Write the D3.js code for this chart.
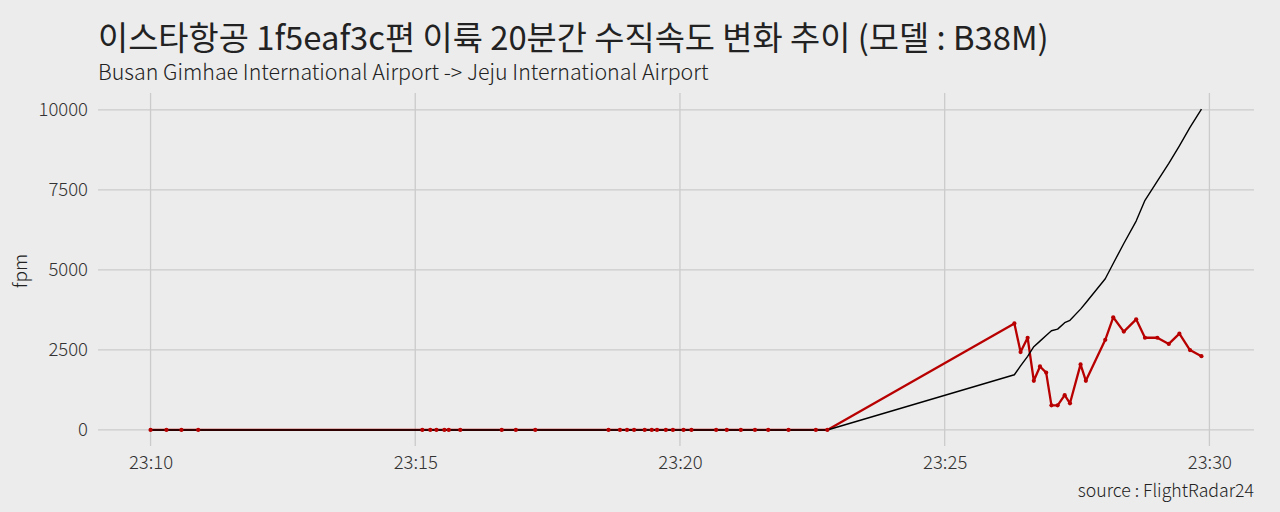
<!DOCTYPE html>
<html><head><meta charset="utf-8">
<script src="https://cdn.jsdelivr.net/npm/d3@7"></script>
<style>
html,body{margin:0;padding:0;background:#ececec;}
text{font-family:"Noto Sans CJK KR","Noto Sans",sans-serif;}
</style></head>
<body><svg id="c" width="1280" height="512"></svg>
<script>
const titleText = "이스타항공 1f5eaf3c편 이륙 20분간 수직속도 변화 추이 (모델 : B38M)";
const subtitleText = "Busan Gimhae International Airport -> Jeju International Airport";
const captionText = "source : FlightRadar24";
const yLabel = "fpm";
const times = ["23:10:00","23:10:18","23:10:35","23:10:54","23:15:08","23:15:17","23:15:24","23:15:33","23:15:38","23:15:51","23:16:38","23:16:54","23:17:16","23:18:39","23:18:52","23:19:00","23:19:08","23:19:20","23:19:28","23:19:34","23:19:44","23:19:52","23:20:04","23:20:13","23:20:41","23:20:53","23:21:09","23:21:25","23:21:40","23:22:03","23:22:34","23:22:47",
"23:26:19","23:26:26","23:26:34","23:26:41","23:26:48","23:26:55","23:27:01","23:27:08","23:27:16","23:27:22","23:27:34","23:27:40","23:28:02","23:28:11","23:28:23","23:28:37","23:28:47","23:29:01","23:29:14","23:29:26","23:29:38","23:29:51"];
const zeros = new Array(32).fill(0);
const verticalSpeed = zeros.concat([3328,2432,2880,1536,1984,1792,768,768,1088,832,2048,1536,2816,3520,3072,3456,2880,2880,2688,3008,2496,2304]);
const altitude = zeros.concat([1725,2000,2300,2600,2775,2950,3100,3150,3350,3425,3775,3975,4725,5200,5825,6525,7175,7775,8325,8875,9450,10025]);
const yTicks = [0,2500,5000,7500,10000];

const parse = d3.timeParse("%H:%M:%S");
const data = times.map((t,i)=>({t:parse(t), vs:verticalSpeed[i], alt:altitude[i]}));

const svg = d3.select("#c");
const L=98, R=1254, T=93, B=446;
const tExt = d3.extent(data,d=>d.t);
const tPad = (tExt[1]-tExt[0])*0.05;
const x = d3.scaleTime().domain([new Date(+tExt[0]-tPad), new Date(+tExt[1]+tPad)]).range([L,R]);
const yMax = d3.max(data,d=>Math.max(d.vs,d.alt));
const yMin = 0;
const yPad = (yMax-yMin)*0.05;
const y = d3.scaleLinear().domain([yMin-yPad, yMax+yPad]).range([B,T]);

const grid = svg.append("g");
const xt = x.ticks(d3.timeMinute.every(5));
grid.selectAll("line.v").data(xt).join("line")
  .attr("x1",d=>x(d)).attr("x2",d=>x(d)).attr("y1",T).attr("y2",B)
  .attr("stroke","#cbcbcb").attr("stroke-width",1.3);
grid.selectAll("line.h").data(yTicks).join("line")
  .attr("x1",L).attr("x2",R).attr("y1",d=>y(d)).attr("y2",d=>y(d))
  .attr("stroke","#cbcbcb").attr("stroke-width",1.3);

const F = '"Noto Sans CJK KR"';
const xAxis = d3.axisBottom(x).tickValues(xt).tickFormat(d3.timeFormat("%H:%M")).tickSize(0).tickPadding(10);
const gx = svg.append("g").attr("transform",`translate(0,${B})`).call(xAxis);
gx.select(".domain").remove();
gx.selectAll("text").attr("font-size",18.5).attr("font-weight",300).attr("fill","#333").attr("font-family",F);
const yAxis = d3.axisLeft(y).tickValues(yTicks).tickFormat(d3.format("d")).tickSize(0).tickPadding(10);
const gy = svg.append("g").attr("transform",`translate(${L},0)`).call(yAxis);
gy.select(".domain").remove();
gy.selectAll("text").attr("font-size",18.5).attr("font-weight",300).attr("fill","#333").attr("font-family",F);

const lineVs = d3.line().x(d=>x(d.t)).y(d=>y(d.vs));
const lineAlt = d3.line().x(d=>x(d.t)).y(d=>y(d.alt));
svg.append("path").datum(data).attr("d",lineVs).attr("fill","none").attr("stroke","#b80000").attr("stroke-width",2.3).attr("stroke-linejoin","round");
svg.append("path").datum(data).attr("d",lineAlt).attr("fill","none").attr("stroke","#000").attr("stroke-width",1.4).attr("stroke-linejoin","round");
svg.append("g").selectAll("circle").data(data).join("circle")
  .attr("cx",d=>x(d.t)).attr("cy",d=>y(d.vs)).attr("r",2.1).attr("fill","#b80000");

svg.append("text").attr("x",98).attr("y",50).attr("font-size",32.8).attr("fill","#222").text(titleText);
svg.append("text").attr("x",98).attr("y",80).attr("font-size",21.4).attr("font-weight",300).attr("fill","#222").text(subtitleText);
svg.append("text").attr("x",1254).attr("y",497).attr("text-anchor","end").attr("font-size",17.7).attr("font-weight",300).attr("fill","#222").text(captionText);
svg.append("text").attr("transform","translate(27,271) rotate(-90)").attr("text-anchor","middle").attr("font-size",19).attr("font-weight",300).attr("fill","#222").text(yLabel);
</script></body></html>
